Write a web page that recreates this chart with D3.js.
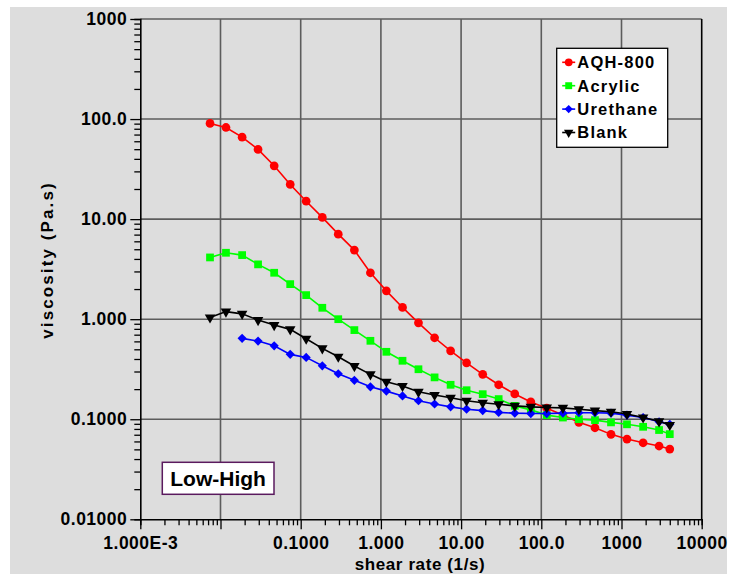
<!DOCTYPE html>
<html>
<head>
<meta charset="utf-8">
<script src="https://cdn.jsdelivr.net/npm/d3@7"></script>
<style>
  html, body { margin: 0; padding: 0; background: #fff; }
  svg { display: block; font-family: "Liberation Sans", Arial, sans-serif; font-weight: bold; }
</style>
</head>
<body>
<div id="chart"></div>
<script>
// shear rate (1/s), shared by every series
const shearRate = [0.0074, 0.0117, 0.0186, 0.0294, 0.0467, 0.0740, 0.117, 0.186, 0.294, 0.467,
                   0.740, 1.17, 1.86, 2.94, 4.67, 7.40, 11.7, 18.6, 29.4, 46.7,
                   74.0, 117, 186, 294, 467, 740, 1170, 1860, 2940, 4000];

// viscosity (Pa.s)
const aqh800 = [90.4, 82.4, 65.9, 49.7, 34.1, 22.2, 15.1, 10.4, 7.08, 4.90,
                2.91, 1.92, 1.31, 0.920, 0.652, 0.483, 0.366, 0.281, 0.221, 0.179,
                0.149, 0.129, 0.110, 0.0931, 0.0822, 0.0706, 0.0634, 0.0582, 0.0540, 0.0503];
const acrylic = [4.14, 4.61, 4.37, 3.53, 2.91, 2.24, 1.74, 1.30, 1.00, 0.778,
                 0.608, 0.472, 0.384, 0.316, 0.262, 0.221, 0.195, 0.178, 0.159, 0.136,
                 0.124, 0.110, 0.104, 0.100, 0.098, 0.093, 0.089, 0.084, 0.078, 0.071];
const urethane = [null, null, 0.643, 0.604, 0.542, 0.445, 0.415, 0.342, 0.285, 0.245,
                  0.211, 0.191, 0.171, 0.153, 0.142, 0.133, 0.126, 0.122, 0.117, 0.115,
                  0.114, 0.114, 0.115, 0.116, 0.116, 0.115, 0.110, 0.104, 0.0944, 0.089];
const blank = [1.04, 1.19, 1.13, 0.98, 0.873, 0.791, 0.637, 0.511, 0.421, 0.340,
               0.281, 0.237, 0.215, 0.188, 0.175, 0.164, 0.153, 0.146, 0.141, 0.136,
               0.133, 0.131, 0.130, 0.126, 0.122, 0.119, 0.113, 0.104, 0.0953, 0.0875];

const seriesNames = ['AQH-800', 'Acrylic', 'Urethane', 'Blank'];
const seriesColors = ['#ff0000', '#00ff00', '#0000ff', '#000000'];

const xTickValues = [1e-3, 1e-2, 1e-1, 1, 10, 100, 1000, 10000];
const xTickLabels = ['1.000E-3', '', '0.1000', '1.000', '10.00', '100.0', '1000', '10000'];
const yTickValues = [0.01, 0.1, 1, 10, 100, 1000];
const yTickLabels = ['0.01000', '0.1000', '1.000', '10.00', '100.0', '1000'];

const width = 731, height = 586;
const plot = { left: 140.3, right: 701.7, top: 19, bottom: 519.3 };

const svg = d3.select('#chart')
    .append('svg')
    .attr('width', width)
    .attr('height', height);

// grey panel
svg.append('rect')
    .attr('x', 10).attr('y', 7)
    .attr('width', 717).attr('height', 567)
    .attr('fill', '#dddddd');

const x = d3.scaleLog().domain([1e-3, 1e4]).range([plot.left, plot.right]);
const y = d3.scaleLog().domain([0.01, 1000]).range([plot.bottom, plot.top]);

// minor ticks 2..9 in every decade
const minor = (lo, hi) => {
    const out = [];
    for (let d = lo; d < hi; d *= 10) for (let k = 2; k <= 9; k++) out.push(d * k);
    return out;
};

// grid
const grid = svg.append('g').attr('stroke', '#5c5c5c').attr('stroke-width', 1.6);
grid.selectAll('.vg').data(xTickValues.slice(1, -1)).enter().append('line')
    .attr('x1', d => x(d)).attr('x2', d => x(d))
    .attr('y1', plot.top).attr('y2', plot.bottom);
grid.selectAll('.hg').data(yTickValues.slice(1)).enter().append('line')
    .attr('x1', plot.left).attr('x2', plot.right)
    .attr('y1', d => y(d)).attr('y2', d => y(d));

// right frame
svg.append('line')
    .attr('x1', plot.right).attr('x2', plot.right)
    .attr('y1', plot.top).attr('y2', plot.bottom)
    .attr('stroke', '#000').attr('stroke-width', 1.6);

// x axis
const xAxis = svg.append('g')
    .attr('transform', `translate(0,${plot.bottom})`)
    .call(d3.axisBottom(x)
        .tickValues(xTickValues.concat(minor(1e-3, 1e4)))
        .tickSize(6)
        .tickFormat(d => {
            const i = xTickValues.indexOf(d);
            return i >= 0 ? xTickLabels[i] : '';
        }));
xAxis.select('.domain').attr('stroke', '#000').attr('stroke-width', 1.6);
xAxis.selectAll('.tick line').attr('stroke', '#000').attr('stroke-width', 1.3)
    .attr('y2', d => xTickValues.includes(d) ? 10 : 6);
xAxis.selectAll('.tick text')
    .attr('y', 17)
    .attr('fill', '#000')
    .style('font-size', '17.5px')
    .style('letter-spacing', '0.5px')
    .style('font-family', '"Liberation Sans", Arial, sans-serif')
    .style('font-weight', 'bold');

// y axis
const yAxis = svg.append('g')
    .attr('transform', `translate(${plot.left},0)`)
    .call(d3.axisLeft(y)
        .tickValues(yTickValues.concat(minor(0.01, 1000)))
        .tickSize(6)
        .tickFormat(d => {
            const i = yTickValues.indexOf(d);
            return i >= 0 ? yTickLabels[i] : '';
        }));
yAxis.select('.domain').attr('stroke', '#000').attr('stroke-width', 1.6);
yAxis.selectAll('.tick line').attr('stroke', '#000').attr('stroke-width', 1.3)
    .attr('x2', d => yTickValues.includes(d) ? -10 : -6);
yAxis.selectAll('.tick text')
    .attr('x', -13)
    .attr('fill', '#000')
    .style('font-size', '17.5px')
    .style('letter-spacing', '0.5px')
    .style('font-family', '"Liberation Sans", Arial, sans-serif')
    .style('font-weight', 'bold');

// axis titles
svg.append('text')
    .attr('x', 420).attr('y', 570)
    .attr('text-anchor', 'middle')
    .style('font-size', '17px')
    .style('letter-spacing', '0.6px')
    .text('shear rate (1/s)');

svg.append('text')
    .attr('transform', 'translate(53,260) rotate(-90)')
    .attr('text-anchor', 'middle')
    .style('font-size', '17px')
    .style('letter-spacing', '2.1px')
    .text('viscosity (Pa.s)');

// series
const allSeries = [aqh800, acrylic, urethane, blank];
const symbolTypes = [d3.symbolCircle, d3.symbolSquare, d3.symbolSquare, d3.symbolTriangle];
const symbolSizes = [60, 60, 42, 48];
const symbolRotate = [0, 0, 45, 180];

const line = d3.line()
    .defined(d => d[1] != null)
    .x(d => x(d[0]))
    .y(d => y(d[1]));

allSeries.forEach((vals, s) => {
    const pts = shearRate.map((r, i) => [r, vals[i]]);
    const g = svg.append('g');
    g.append('path')
        .attr('d', line(pts))
        .attr('fill', 'none')
        .attr('stroke', seriesColors[s])
        .attr('stroke-width', 1.6);
    g.selectAll('path.pt')
        .data(pts.filter(d => d[1] != null))
        .enter().append('path')
        .attr('class', 'pt')
        .attr('d', d3.symbol().type(symbolTypes[s]).size(symbolSizes[s]))
        .attr('transform', d => `translate(${x(d[0])},${y(d[1])}) rotate(${symbolRotate[s]})`)
        .attr('fill', seriesColors[s]);
});

// legend
const legend = svg.append('g').attr('transform', 'translate(556.7,48.3)');
legend.append('rect')
    .attr('width', 111).attr('height', 99)
    .attr('fill', '#fff').attr('stroke', '#000').attr('stroke-width', 1.3);
seriesNames.forEach((name, s) => {
    const row = legend.append('g').attr('transform', `translate(0,${14 + s * 23.4})`);
    row.append('line')
        .attr('x1', 5.5).attr('x2', 18.5)
        .attr('stroke', seriesColors[s]).attr('stroke-width', 1.6);
    row.append('path')
        .attr('d', d3.symbol().type(symbolTypes[s]).size(symbolSizes[s] * 0.8))
        .attr('transform', `translate(12,0) rotate(${symbolRotate[s]})`)
        .attr('fill', seriesColors[s]);
    row.append('text')
        .attr('x', 20.6).attr('dy', '0.36em')
        .style('font-size', '16.5px')
        .style('letter-spacing', '1.2px')
        .text(name);
});

// annotation box
const note = svg.append('g').attr('transform', 'translate(162.3,462.3)');
note.append('rect')
    .attr('width', 111.7).attr('height', 32)
    .attr('fill', '#fff').attr('stroke', '#5a1a5e').attr('stroke-width', 1.5);
note.append('text')
    .attr('x', 55.8).attr('y', 16).attr('dy', '0.36em')
    .attr('text-anchor', 'middle')
    .style('font-size', '21px')
    .text('Low-High');
</script>
</body>
</html>
